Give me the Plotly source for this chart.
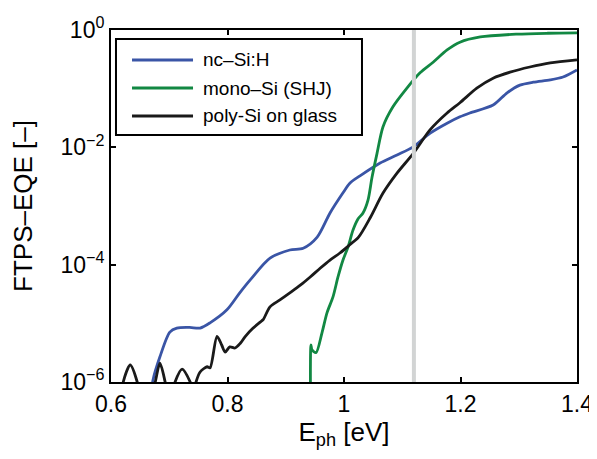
import plotly.graph_objects as go

# ---------------- data ----------------
nc_E = [0.668, 0.672, 0.684, 0.701, 0.713, 0.735, 0.753, 0.770, 0.799, 0.821,
        0.839, 0.873, 0.907, 0.930, 0.954, 0.976, 0.998, 1.010, 1.030, 1.062,
        1.091, 1.119, 1.148, 1.177, 1.199, 1.216, 1.256, 1.280, 1.302, 1.325,
        1.354, 1.376, 1.400]
nc_EQE = [5.0e-7, 1.07e-6, 2.69e-6, 7.1e-6, 8.3e-6, 8.5e-6, 8.3e-6, 1.02e-5, 1.70e-5, 3.31e-5,
          5.5e-5, 1.29e-4, 1.78e-4, 1.91e-4, 2.95e-4, 7.6e-4, 1.66e-3, 2.45e-3, 3.39e-3, 5.4e-3,
          7.4e-3, 1.02e-2, 1.74e-2, 2.57e-2, 3.31e-2, 3.85e-2, 5.25e-2, 8.5e-2, 1.15e-1, 1.29e-1,
          1.41e-1, 1.58e-1, 2.09e-1]

mono_E = [0.9425, 0.9433, 0.9450, 0.9519, 0.9622, 0.9708, 0.9811, 0.9897, 0.9983, 1.0069,
          1.0155, 1.0240, 1.0326, 1.0412, 1.0481, 1.0567, 1.067, 1.084, 1.108, 1.1305,
          1.153, 1.177, 1.199, 1.234, 1.297, 1.350, 1.400]
mono_EQE = [3.2e-7, 4.27e-6, 3.55e-6, 3.16e-6, 6.9e-6, 1.51e-5, 2.82e-5, 6.17e-5, 1.20e-4, 2.0e-4,
            3.89e-4, 6.0e-4, 7.6e-4, 1.26e-3, 3.09e-3, 7.9e-3, 2.24e-2, 4.9e-2, 1.02e-1, 1.86e-1,
            2.82e-1, 4.57e-1, 6.2e-1, 7.6e-1, 8.5e-1, 8.8e-1, 8.9e-1]

poly_E = [0.600, 0.615, 0.621, 0.633, 0.645, 0.652, 0.666, 0.676, 0.684, 0.693,
          0.701, 0.710, 0.722, 0.736, 0.742, 0.746, 0.753, 0.765, 0.770, 0.782,
          0.790, 0.796, 0.804, 0.813, 0.822, 0.830, 0.844, 0.856, 0.861, 0.873,
          0.890, 0.907, 0.925, 0.942, 0.959, 0.976, 0.993, 1.010, 1.025, 1.045,
          1.067, 1.091, 1.119, 1.148, 1.177, 1.199, 1.228, 1.256, 1.285, 1.319,
          1.354, 1.400]
poly_EQE = [3.2e-7, 4.0e-7, 1.0e-6, 1.95e-6, 1.0e-6, 4.0e-7, 4.0e-7, 1.0e-6, 2.09e-6, 1.0e-6,
            4.0e-7, 1.0e-6, 1.66e-6, 1.0e-6, 6.3e-7, 1.0e-6, 1.48e-6, 1.82e-6, 1.74e-6, 6.0e-6,
            4.27e-6, 3.24e-6, 3.98e-6, 3.80e-6, 4.57e-6, 5.9e-6, 8.3e-6, 1.05e-5, 1.15e-5, 1.91e-5,
            2.51e-5, 3.31e-5, 4.47e-5, 6.17e-5, 8.7e-5, 1.20e-4, 1.58e-4, 2.19e-4, 2.95e-4, 6.3e-4,
            1.66e-3, 3.63e-3, 7.9e-3, 2.0e-2, 3.85e-2, 5.75e-2, 1.02e-1, 1.51e-1, 1.91e-1, 2.34e-1,
            2.75e-1, 3.09e-1]

series_names = ["nc\u2013Si:H", "mono\u2013Si (SHJ)", "poly-Si on glass"]
series_colors = ["#3a55a6", "#128843", "#1a1a1a"]

bandgap_eV = 1.12  # grey reference line (Si band gap)

x_ticks = [0.6, 0.8, 1.0, 1.2, 1.4]
x_ticktext = ["0.6", "0.8", "1", "1.2", "1.4"]
y_ticks = [1e-6, 1e-4, 1e-2, 1e0]
y_ticktext = ["10<sup>\u22126</sup>", "10<sup>\u22124</sup>", "10<sup>\u22122</sup>", "10<sup>0</sup>"]

# ---------------- figure ----------------
FONT = "Liberation Sans, Arial, Helvetica, sans-serif"
fig = go.Figure()

for E, Q, name, col in zip([nc_E, mono_E, poly_E], [nc_EQE, mono_EQE, poly_EQE],
                           series_names, series_colors):
    fig.add_trace(go.Scatter(x=E, y=Q, mode="lines", name=name, showlegend=False,
                             line=dict(color=col, width=2.8, shape="spline", smoothing=0.8)))

# grey band-gap line on top of the curves
fig.add_shape(type="line", x0=bandgap_eV, x1=bandgap_eV, xref="x", y0=0, y1=1, yref="paper",
              line=dict(color="#d2d4d4", width=4), layer="above")

# custom legend box (matches the long line samples of the reference)
L_x0, L_x1, L_y0, L_y1 = 0.0107, 0.5386, 0.7017, 0.9744
fig.add_shape(type="rect", xref="paper", yref="paper", x0=L_x0, x1=L_x1, y0=L_y0, y1=L_y1,
              line=dict(color="black", width=2), fillcolor="white", layer="above")
row_y = [0.9148, 0.8352, 0.7557]
for ry, name, col in zip(row_y, series_names, series_colors):
    fig.add_shape(type="line", xref="paper", yref="paper", x0=0.0451, x1=0.176, y0=ry, y1=ry,
                  line=dict(color=col, width=3), layer="above")
    fig.add_annotation(xref="paper", yref="paper", x=0.1931, y=ry, text=name, showarrow=False,
                       xanchor="left", yanchor="middle", font=dict(family=FONT, size=19, color="black"))

# the page places the figure at an 8 px body offset; size/margins compensate for it
fig.update_layout(
    width=589, height=451,
    margin=dict(l=103, r=20, t=22, b=77, autoexpand=False),
    paper_bgcolor="white", plot_bgcolor="white",
    font=dict(family=FONT, size=23, color="black"),
    showlegend=False,
)
fig.update_xaxes(
    range=[0.6, 1.4], tickvals=x_ticks, ticktext=x_ticktext,
    ticks="inside", ticklen=5, tickwidth=1.5, tickcolor="black",
    showline=True, linewidth=2, linecolor="black", mirror="ticks",
    showgrid=False, zeroline=False, automargin=False,
    tickfont=dict(family=FONT, size=23),
    title=dict(text="E<sub>ph</sub> [eV]", font=dict(family=FONT, size=26), standoff=6),
)
fig.update_yaxes(
    type="log", range=[-6, 0], tickvals=y_ticks, ticktext=y_ticktext,
    ticks="inside", ticklen=5, tickwidth=1.5, tickcolor="black",
    showline=True, linewidth=2, linecolor="black", mirror="ticks",
    showgrid=False, zeroline=False, automargin=False,
    tickfont=dict(family=FONT, size=23),
    title=dict(text="FTPS\u2013EQE [\u2013]", font=dict(family=FONT, size=26), standoff=22),
)

fig.write_html("out.html")
